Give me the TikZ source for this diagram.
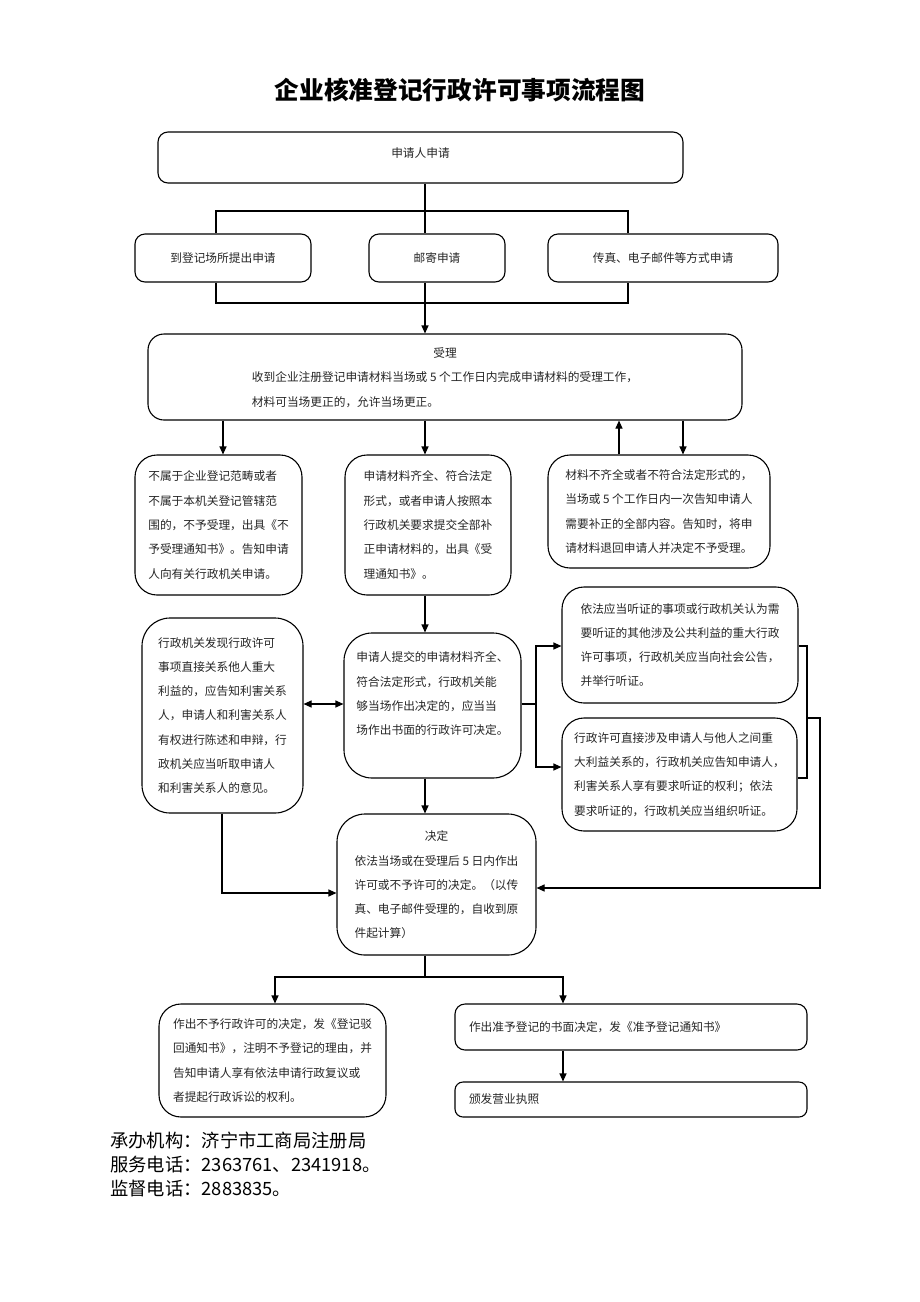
\documentclass[tikz,border=0pt]{standalone}
\usepackage{fontspec}
\setmainfont{Noto Sans CJK SC}
\usetikzlibrary{arrows.meta}
\newcommand\bxfont{\fontsize{11.7}{24.3}\selectfont}
\tikzset{
  rbox/.style={draw, line width=1.1pt, rounded corners=#1, inner sep=0pt, align=left, font=\bxfont, text=black!85},
  ln/.style={line width=1.1pt},
  arr/.style={-{Triangle[length=8pt,width=7pt]}, line width=1.1pt},
  arrs/.style={{Triangle[length=8pt,width=7pt]}-{Triangle[length=8pt,width=7pt]}, line width=1.1pt},
}
\begin{document}
\begin{tikzpicture}[x=1pt,y=-1pt]
\useasboundingbox (0,0) rectangle (920,1302);
\fill[white] (0,0) rectangle (920,1302);

\node[font=\fontsize{24.7}{30}\selectfont\bfseries] (title) at (460,90) {企业核准登记行政许可事项流程图};

\node[rbox=10, minimum width=525pt, minimum height=51pt, text depth=9pt] (B1) at (420.5,157.5) {申请人申请};
\node[rbox=10, minimum width=176pt, minimum height=48pt] (site) at (223,258) {到登记场所提出申请};
\node[rbox=10, minimum width=136pt, minimum height=48pt] (mail) at (437,258) {邮寄申请};
\node[rbox=10, minimum width=230pt, minimum height=48pt] (fax) at (663,258) {传真、电子邮件等方式申请};

\node[rbox=16, minimum width=594pt, minimum height=86pt] (shouli) at (445,377)
  {\begin{tabular}{@{}l@{}}\multicolumn{1}{@{}c@{}}{受理}\\收到企业注册登记申请材料当场或 5 个工作日内完成申请材料的受理工作，\\材料可当场更正的，允许当场更正。\end{tabular}};

\node[rbox=22, minimum width=167pt, minimum height=140pt] (r3a) at (218.5,525)
  {不属于企业登记范畴或者\\不属于本机关登记管辖范\\围的，不予受理，出具《不\\予受理通知书》。告知申请\\人向有关行政机关申请。};
\node[rbox=22, minimum width=166pt, minimum height=140pt] (r3b) at (428,525)
  {申请材料齐全、符合法定\\形式，或者申请人按照本\\行政机关要求提交全部补\\正申请材料的，出具《受\\理通知书》。};
\node[rbox=22, minimum width=222pt, minimum height=113pt] (r3c) at (659,511.5)
  {材料不齐全或者不符合法定形式的，\\当场或 5 个工作日内一次告知申请人\\需要补正的全部内容。告知时，将申\\请材料退回申请人并决定不予受理。};

\node[rbox=28, minimum width=161pt, minimum height=195pt] (fx) at (222.5,715.5)
  {行政机关发现行政许可\\事项直接关系他人重大\\利益的，应告知利害关系\\人，申请人和利害关系人\\有权进行陈述和申辩，行\\政机关应当听取申请人\\和利害关系人的意见。};
\node[rbox=28, minimum width=177pt, minimum height=145pt] (tj) at (432.5,705.5)
  {申请人提交的申请材料齐全、\\符合法定形式，行政机关能\\够当场作出决定的，应当当\\场作出书面的行政许可决定。\\\mbox{}};
\node[rbox=22, minimum width=236pt, minimum height=116pt] (hz1) at (680,645)
  {依法应当听证的事项或行政机关认为需\\要听证的其他涉及公共利益的重大行政\\许可事项，行政机关应当向社会公告，\\并举行听证。};
\node[rbox=22, minimum width=235pt, minimum height=113pt] (hz2) at (679.5,774.5)
  {行政许可直接涉及申请人与他人之间重\\大利益关系的，行政机关应告知申请人，\\利害关系人享有要求听证的权利；依法\\要求听证的，行政机关应当组织听证。};

\node[rbox=28, minimum width=199pt, minimum height=141pt] (jd) at (436.5,884.5)
  {\begin{tabular}{@{}l@{}}\multicolumn{1}{@{}c@{}}{决定}\\依法当场或在受理后 5 日内作出\\许可或不予许可的决定。（以传\\真、电子邮件受理的，自收到原\\件起计算）\end{tabular}};

\node[rbox=22, minimum width=227pt, minimum height=113pt] (bl) at (272.5,1060.5)
  {作出不予行政许可的决定，发《登记驳\\回通知书》，注明不予登记的理由，并\\告知申请人享有依法申请行政复议或\\者提起行政诉讼的权利。};
\node[rbox=10, minimum width=352pt, minimum height=46pt, text width=324pt] (br1) at (631,1027)
  {作出准予登记的书面决定，发《准予登记通知书》};
\node[rbox=8, minimum width=352pt, minimum height=35pt, text width=324pt] (br2) at (631,1099.5)
  {颁发营业执照};

\node[anchor=west, align=left, inner sep=0pt, font=\fontsize{18.3}{24}\selectfont] (foot) at (110,1164)
  {承办机构：济宁市工商局注册局\\服务电话：2363761、2341918。\\监督电话：2883835。};

% helper coordinates
\coordinate (jT) at (425,211);
\coordinate (jTL) at (216,211);
\coordinate (jTR) at (628,211);
\coordinate (jB) at (425,303);
\coordinate (jBL) at (216,303);
\coordinate (jBR) at (628,303);
\coordinate (xa) at (223,0);
\coordinate (xc1) at (619,0);
\coordinate (xc2) at (683,0);
\coordinate (xm) at (425,0);
\coordinate (ymid) at (0,704);
\coordinate (bj) at (536,704);
\coordinate (bjT) at (536,646);
\coordinate (bjB) at (536,767);
\coordinate (bk1) at (807,646);
\coordinate (bk2) at (807,778);
\coordinate (bk3) at (807,718);
\coordinate (oc1) at (820,718);
\coordinate (oc2) at (820,888);
\coordinate (fl) at (222,893);
\coordinate (jd0) at (425,977);
\coordinate (xl) at (275,0);
\coordinate (xr) at (563,0);

\draw[ln] (B1.south -| jT) -- (mail.north -| jT);
\draw[ln] (site.north -| jTL) -- (jTL) -- (jTR) -- (fax.north -| jTR);
\draw[ln] (site.south -| jBL) -- (jBL) -- (jBR) -- (fax.south -| jBR);
\draw[arr] (mail.south -| jB) -- (shouli.north -| jB);

\draw[arr] (shouli.south -| xa) -- (r3a.north -| xa);
\draw[arr] (shouli.south -| xm) -- (r3b.north -| xm);
\draw[arr] (r3c.north -| xc1) -- (shouli.south -| xc1);
\draw[arr] (shouli.south -| xc2) -- (r3c.north -| xc2);
\draw[arr] (r3b.south -| xm) -- (tj.north -| xm);

\draw[arrs] (fx.east |- ymid) -- (tj.west |- ymid);
\draw[ln] (tj.east |- bj) -- (bj);
\draw[arr] (bj) |- (hz1.west |- bjT);
\draw[arr] (bj) |- (hz2.west |- bjB);
\draw[ln] (hz1.east |- bk1) -- (bk1) -- (bk2) -- (hz2.east |- bk2);
\draw[arr] (bk3) -- (oc1) -- (oc2) -- (jd.east |- oc2);
\draw[arr] (tj.south -| xm) -- (jd.north -| xm);
\draw[arr] (fx.south -| fl) -- (fl) -- (jd.west |- fl);

\draw[ln] (jd.south -| jd0) -- (jd0);
\draw[arr] (jd0) -| (bl.north -| xl);
\draw[arr] (jd0) -| (br1.north -| xr);
\draw[arr] (br1.south -| xr) -- (br2.north -| xr);
\end{tikzpicture}
\end{document}
